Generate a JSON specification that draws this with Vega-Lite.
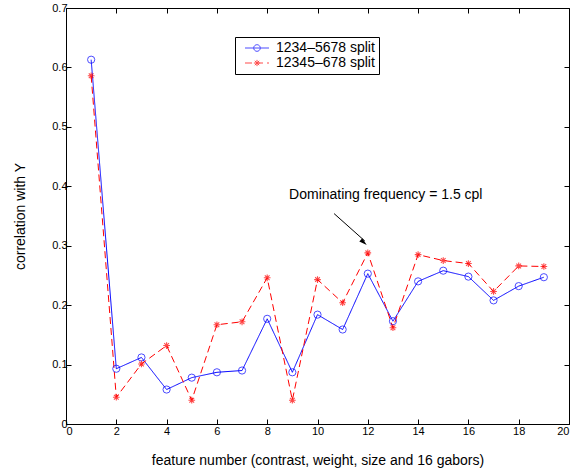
{
  "$schema": "https://vega.github.io/schema/vega-lite/v6.json",
  "width": 503,
  "height": 416,
  "autosize": {"type": "none"},
  "padding": {"left": 66, "top": 8, "right": 7, "bottom": 48},
  "background": "white",
  "config": {
    "view": {"stroke": "black", "strokeWidth": 1},
    "font": "Liberation Sans",
    "axis": {
      "domainColor": "black",
      "domainWidth": 1,
      "tickColor": "black",
      "tickSize": -5,
      "tickWidth": 1,
      "labelColor": "black",
      "labelFont": "Liberation Sans",
      "labelFontSize": 11,
      "titleFont": "Liberation Sans",
      "titleFontSize": 14,
      "titleFontWeight": "normal",
      "titleColor": "black",
      "grid": false
    },
    "text": {"font": "Liberation Sans"}
  },
  "datasets": {
    "corr": [
      {"feature": 1, "series": "1234–5678 split", "corr": 0.613},
      {"feature": 2, "series": "1234–5678 split", "corr": 0.093},
      {"feature": 3, "series": "1234–5678 split", "corr": 0.112},
      {"feature": 4, "series": "1234–5678 split", "corr": 0.058},
      {"feature": 5, "series": "1234–5678 split", "corr": 0.078},
      {"feature": 6, "series": "1234–5678 split", "corr": 0.087},
      {"feature": 7, "series": "1234–5678 split", "corr": 0.090},
      {"feature": 8, "series": "1234–5678 split", "corr": 0.177},
      {"feature": 9, "series": "1234–5678 split", "corr": 0.087},
      {"feature": 10, "series": "1234–5678 split", "corr": 0.184},
      {"feature": 11, "series": "1234–5678 split", "corr": 0.159},
      {"feature": 12, "series": "1234–5678 split", "corr": 0.253},
      {"feature": 13, "series": "1234–5678 split", "corr": 0.173},
      {"feature": 14, "series": "1234–5678 split", "corr": 0.240},
      {"feature": 15, "series": "1234–5678 split", "corr": 0.258},
      {"feature": 16, "series": "1234–5678 split", "corr": 0.248},
      {"feature": 17, "series": "1234–5678 split", "corr": 0.208},
      {"feature": 18, "series": "1234–5678 split", "corr": 0.232},
      {"feature": 19, "series": "1234–5678 split", "corr": 0.247},
      {"feature": 1, "series": "12345–678 split", "corr": 0.586},
      {"feature": 2, "series": "12345–678 split", "corr": 0.045},
      {"feature": 3, "series": "12345–678 split", "corr": 0.101},
      {"feature": 4, "series": "12345–678 split", "corr": 0.132},
      {"feature": 5, "series": "12345–678 split", "corr": 0.040},
      {"feature": 6, "series": "12345–678 split", "corr": 0.167},
      {"feature": 7, "series": "12345–678 split", "corr": 0.172},
      {"feature": 8, "series": "12345–678 split", "corr": 0.246},
      {"feature": 9, "series": "12345–678 split", "corr": 0.040},
      {"feature": 10, "series": "12345–678 split", "corr": 0.243},
      {"feature": 11, "series": "12345–678 split", "corr": 0.204},
      {"feature": 12, "series": "12345–678 split", "corr": 0.288},
      {"feature": 13, "series": "12345–678 split", "corr": 0.162},
      {"feature": 14, "series": "12345–678 split", "corr": 0.285},
      {"feature": 15, "series": "12345–678 split", "corr": 0.275},
      {"feature": 16, "series": "12345–678 split", "corr": 0.270},
      {"feature": 17, "series": "12345–678 split", "corr": 0.223},
      {"feature": 18, "series": "12345–678 split", "corr": 0.266},
      {"feature": 19, "series": "12345–678 split", "corr": 0.265}
    ]
  },
  "layer": [
    {
      "data": {"name": "corr"},
      "mark": {"type": "line", "strokeWidth": 1},
      "encoding": {
        "x": {
          "field": "feature", "type": "quantitative",
          "scale": {"domain": [0, 20], "nice": false, "zero": false},
          "axis": {
            "orient": "bottom",
            "values": [0, 2, 4, 6, 8, 10, 12, 14, 16, 18, 20],
            "labelPadding": 6,
            "title": "feature number (contrast, weight, size and 16 gabors)",
            "titleX": 251.5, "titleY": 40, "titleAlign": "center", "titleBaseline": "alphabetic"
          }
        },
        "y": {
          "field": "corr", "type": "quantitative",
          "scale": {"domain": [0, 0.7], "nice": false},
          "axis": {
            "orient": "left",
            "values": [0, 0.1, 0.2, 0.3, 0.4, 0.5, 0.6, 0.7],
            "format": ".1~f",
            "labelPadding": 4,
            "title": "correlation with Y",
            "titleX": -42, "titleY": 208, "titleAngle": -90, "titleAlign": "center", "titleBaseline": "alphabetic"
          }
        },
        "color": {
          "field": "series", "type": "nominal",
          "scale": {"domain": ["1234–5678 split", "12345–678 split"], "range": ["#0000ff", "#ff0000"]},
          "legend": {
            "title": null,
            "orient": "none",
            "legendX": 169,
            "legendY": 29,
            "strokeColor": "black",
            "fillColor": "white",
            "padding": 4,
            "labelFont": "Liberation Sans",
            "labelFontSize": 14,
            "labelColor": "black",
            "labelOffset": 12,
            "symbolSize": 100,
            "symbolStrokeWidth": 1,
            "symbolOffset": 11,
            "rowPadding": 1,
            "labelLimit": 300
          }
        },
        "strokeDash": {
          "field": "series", "type": "nominal",
          "scale": {"domain": ["1234–5678 split", "12345–678 split"], "range": [[1, 0], [7, 4]]}
        }
      }
    },
    {
      "data": {"name": "corr"},
      "transform": [{"filter": "datum.series == '1234–5678 split'"}],
      "mark": {"type": "point", "filled": false, "strokeWidth": 1, "size": 52, "shape": "circle"},
      "encoding": {
        "x": {
          "field": "feature", "type": "quantitative",
          "axis": {"orient": "top", "values": [0, 2, 4, 6, 8, 10, 12, 14, 16, 18, 20], "labels": false, "title": null, "domain": false}
        },
        "y": {
          "field": "corr", "type": "quantitative",
          "axis": {"orient": "right", "values": [0, 0.1, 0.2, 0.3, 0.4, 0.5, 0.6, 0.7], "labels": false, "title": null, "domain": false}
        },
        "color": {"field": "series", "type": "nominal"}
      }
    },
    {
      "data": {"name": "corr"},
      "transform": [{"filter": "datum.series == '12345–678 split'"}],
      "mark": {"type": "point", "filled": false, "strokeWidth": 1.1, "size": 45, "shape": "M-1,0H1M0,-1V1M-0.7,-0.7L0.7,0.7M-0.7,0.7L0.7,-0.7"},
      "encoding": {
        "x": {"field": "feature", "type": "quantitative", "axis": null},
        "y": {"field": "corr", "type": "quantitative", "axis": null},
        "color": {"field": "series", "type": "nominal"}
      }
    },
    {
      "data": {"name": "corr"},
      "transform": [{"filter": "datum.feature > 100"}],
      "mark": {"type": "point", "filled": false, "strokeWidth": 1},
      "encoding": {
        "x": {"field": "feature", "type": "quantitative", "axis": null},
        "y": {"field": "corr", "type": "quantitative", "axis": null},
        "color": {"field": "series", "type": "nominal"},
        "shape": {
          "field": "series", "type": "nominal",
          "scale": {"domain": ["1234–5678 split", "12345–678 split"], "range": ["M-2.4,0H2.4M0.66,0A0.66,0.66 0 1,1 -0.66,0A0.66,0.66 0 1,1 0.66,0", "M-2.4,0H2.4M-0.62,0H0.62M0,-0.62V0.62M-0.44,-0.44L0.44,0.44M-0.44,0.44L0.44,-0.44"]}
        }
      }
    },
    {
      "data": {"values": [{"x": 10.66, "y": 0.354, "x2": 11.88, "y2": 0.308}]},
      "mark": {"type": "rule", "color": "black", "strokeWidth": 1},
      "encoding": {
        "x": {"field": "x", "type": "quantitative", "axis": null},
        "y": {"field": "y", "type": "quantitative", "axis": null},
        "x2": {"field": "x2"},
        "y2": {"field": "y2"}
      }
    },
    {
      "data": {"values": [{"x": 11.84, "y": 0.3055}]},
      "mark": {"type": "point", "shape": "M0,-1L0.55,1L-0.55,1Z", "filled": true, "color": "black", "opacity": 1, "size": 64, "angle": 132},
      "encoding": {
        "x": {"field": "x", "type": "quantitative", "axis": null},
        "y": {"field": "y", "type": "quantitative", "axis": null}
      }
    },
    {
      "data": {"values": [{"x": 8.87, "y": 0.385, "label": "Dominating frequency = 1.5 cpl"}]},
      "mark": {"type": "text", "align": "left", "baseline": "middle", "fontSize": 14, "color": "black", "font": "Liberation Sans"},
      "encoding": {
        "x": {"field": "x", "type": "quantitative", "axis": null},
        "y": {"field": "y", "type": "quantitative", "axis": null},
        "text": {"field": "label"}
      }
    }
  ],
  "resolve": {"axis": {"x": "independent", "y": "independent"}}
}
